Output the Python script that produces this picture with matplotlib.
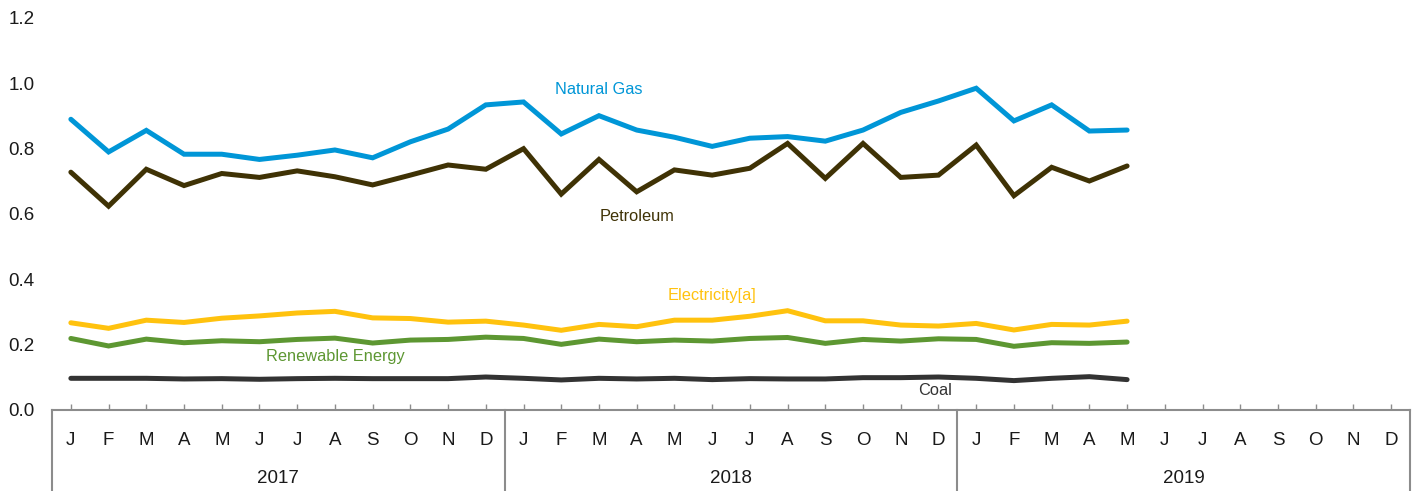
import matplotlib
matplotlib.use("Agg")
import matplotlib.pyplot as plt
from matplotlib.lines import Line2D
import numpy as np

plt.rcParams['font.family'] = ['Liberation Sans', 'DejaVu Sans']

# Monthly values, Jan 2017 - May 2019
months = ["J", "F", "M", "A", "M", "J", "J", "A", "S", "O", "N", "D"]
years = ["2017", "2018", "2019"]

natural_gas = [0.890, 0.790, 0.856, 0.783, 0.783, 0.767, 0.780, 0.796, 0.772, 0.821, 0.860, 0.934,
               0.943, 0.845, 0.901, 0.857, 0.835, 0.807, 0.832, 0.837, 0.823, 0.857, 0.911, 0.946,
               0.985, 0.885, 0.934, 0.854, 0.857]
petroleum = [0.728, 0.624, 0.737, 0.687, 0.724, 0.712, 0.732, 0.714, 0.689, 0.719, 0.750, 0.737,
             0.800, 0.661, 0.767, 0.668, 0.735, 0.719, 0.740, 0.816, 0.709, 0.816, 0.712, 0.719,
             0.811, 0.656, 0.743, 0.701, 0.747]
electricity = [0.267, 0.250, 0.275, 0.268, 0.281, 0.288, 0.297, 0.302, 0.282, 0.280, 0.269, 0.272,
               0.260, 0.244, 0.262, 0.255, 0.275, 0.275, 0.287, 0.304, 0.273, 0.273, 0.260, 0.257,
               0.265, 0.245, 0.262, 0.260, 0.272]
renewable = [0.219, 0.196, 0.217, 0.206, 0.212, 0.209, 0.216, 0.220, 0.205, 0.214, 0.216, 0.223,
             0.219, 0.201, 0.217, 0.209, 0.214, 0.211, 0.219, 0.222, 0.204, 0.216, 0.211, 0.218,
             0.216, 0.195, 0.206, 0.204, 0.208]
coal = [0.097, 0.097, 0.097, 0.095, 0.096, 0.094, 0.096, 0.097, 0.096, 0.096, 0.096, 0.101,
        0.097, 0.092, 0.097, 0.095, 0.097, 0.093, 0.096, 0.095, 0.095, 0.099, 0.099, 0.101,
        0.097, 0.090, 0.097, 0.102, 0.093]

series = [
    ("Natural Gas", natural_gas, "#0096d7", (14.0, 0.980)),
    ("Petroleum", petroleum, "#3f3205", (15.0, 0.591)),
    ("Electricity[a]", electricity, "#ffc20e", (17.0, 0.352)),
    ("Renewable Energy", renewable, "#5d9732", (7.0, 0.163)),
    ("Coal", coal, "#333333", (22.9, 0.059)),
]

fig = plt.figure(figsize=(14.21, 4.91), dpi=100)
ax = fig.add_axes([52 / 1421, 1 - 410 / 491, 1358 / 1421, 392 / 491])

n_months = len(months) * len(years)
for name, vals, color, (lx, ly) in series:
    x = np.arange(len(vals))
    ax.plot(x, vals, color=color, lw=3.6, solid_joinstyle='miter', solid_capstyle='round')
    ax.text(lx, ly, name, color=color, fontsize=11.8, ha='center', va='center')

ax.set_xlim(-0.5, n_months - 0.5)
ax.set_ylim(0, 1.2)

axis_gray = "#8c8c8c"
for s in ("top", "right", "left"):
    ax.spines[s].set_visible(False)
ax.spines["bottom"].set_color(axis_gray)
ax.spines["bottom"].set_linewidth(1.5)

ax.set_yticks(np.arange(0, 1.21, 0.2))
ax.set_yticklabels([f"{v:.1f}" for v in np.arange(0, 1.21, 0.2)])
ax.tick_params(axis='y', length=0, pad=12.5, labelsize=13.5, labelcolor="#1a1a1a")

ax.set_xticks(np.arange(n_months))
ax.set_xticklabels(months * len(years))
ax.tick_params(axis='x', direction='in', length=4, width=1, color=axis_gray,
               pad=15.5, labelsize=13.5, labelcolor="#1a1a1a")

# Year groups: labels and separators below the month row
trans = ax.get_xaxis_transform()
for k, yr in enumerate(years):
    ax.text(12 * k + 5.5, -0.176, yr, transform=trans, ha='center', va='center',
            fontsize=13.5, color="#1a1a1a")
for k in range(len(years) + 1):
    xb = 12 * k - 0.5
    ax.add_line(Line2D([xb, xb], [0, -0.215], transform=trans, color=axis_gray,
                       lw=1.5, clip_on=False))

fig.savefig("out.png", dpi=100)
